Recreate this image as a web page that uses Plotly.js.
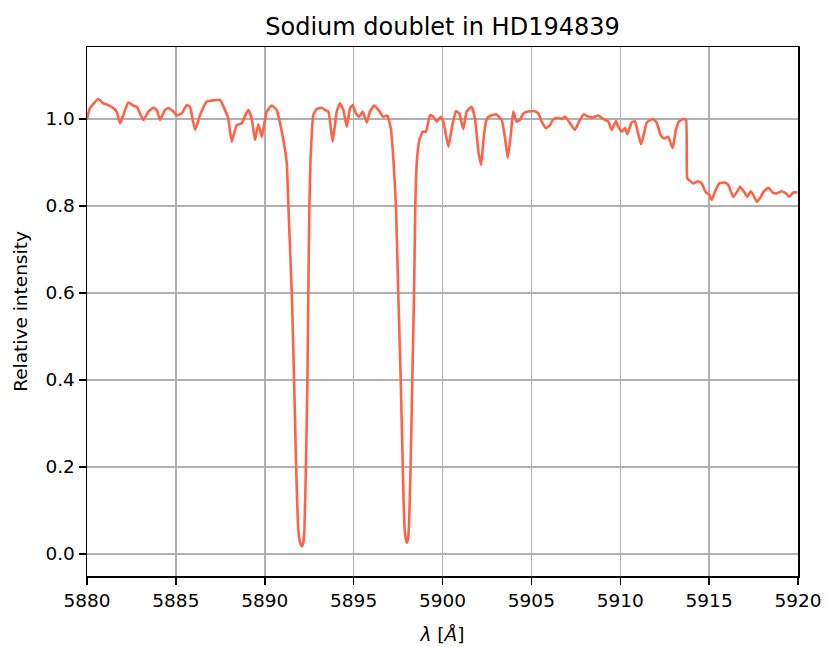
<!DOCTYPE html>
<html>
<head>
<meta charset="utf-8">
<script src="https://cdn.plot.ly/plotly-3.0.1.min.js"></script>
<style>html,body{margin:0;padding:0;background:#fff;}#plot{width:827px;height:647px;}</style>
</head>
<body>
<div id="plot"></div>
<script>
const wavelength = [
5880.00,5880.17,5880.64,5880.92,5881.20,5881.48,5881.67,5881.86,5882.04,5882.32,
5882.60,5882.80,5883.17,5883.45,5883.73,5883.92,5884.11,5884.39,5884.57,5884.86,
5885.05,5885.33,5885.61,5885.79,5886.08,5886.36,5886.73,5887.11,5887.48,5887.76,
5887.95,5888.14,5888.42,5888.70,5889.07,5889.27,5889.45,5889.64,5889.83,5890.11,
5890.39,5890.67,5890.86,5891.14,
5891.24,5891.33,5891.52,5891.65,5891.76,5891.89,5892.00,5892.08,5892.16,5892.23,
5892.32,5892.40,5892.45,5892.51,5892.58,5892.68,5892.73,5892.92,5893.20,5893.39,
5893.58,5893.82,5894.05,5894.23,5894.42,5894.61,5894.80,5894.95,5895.13,5895.32,
5895.51,5895.74,5895.92,5896.15,5896.39,5896.67,5896.89,5897.09,5897.23,5897.38,
5897.51,5897.65,5897.76,5897.85,5897.93,5897.99,5898.06,5898.12,5898.21,5898.30,
5898.40,5898.47,5898.55,5898.70,5898.89,5899.07,
5899.30,5899.49,5899.68,5899.90,5900.05,5900.33,5900.52,5900.76,5900.94,5901.17,
5901.36,5901.64,5901.83,5902.02,5902.17,5902.33,5902.49,5902.72,5903.01,5903.33,
5903.52,5903.67,5903.84,5903.98,5904.17,5904.36,5904.55,5904.83,5905.20,5905.39,
5905.58,5905.82,5906.05,5906.24,5906.52,5906.71,5906.90,5907.18,5907.45,5907.73,
5907.96,5908.20,5908.48,5908.77,5909.05,5909.33,5909.52,5909.76,5909.89,5910.08,
5910.27,5910.40,5910.64,5910.83,5910.98,5911.17,5911.34,5911.49,5911.83,5912.05,
5912.27,5912.46,5912.70,5912.95,5913.13,5913.32,5913.55,5913.70,5913.77,5913.92,
5914.11,5914.39,5914.58,5914.82,5915.01,5915.14,5915.33,5915.57,5915.89,5916.08,
5916.36,5916.59,5916.74,5916.96,5917.15,5917.34,5917.49,5917.68,5917.86,5918.09,
5918.33,5918.58,5918.80,5919.08,5919.32,5919.51,5919.73,5919.96
];
const intensity = [
1.000,1.025,1.046,1.036,1.032,1.025,1.017,0.990,1.009,1.038,
1.031,1.028,0.998,1.017,1.026,1.021,0.998,1.021,1.025,1.017,
1.008,1.013,1.032,1.028,0.975,1.009,1.040,1.043,1.044,1.021,
1.000,0.948,0.986,0.990,1.021,1.000,0.952,0.988,0.959,1.017,
1.031,1.021,0.990,0.930,
0.898,0.800,0.600,0.400,0.209,0.055,0.025,0.018,0.025,0.055,
0.209,0.400,0.600,0.800,0.913,0.990,1.009,1.023,1.026,1.021,
1.017,0.948,1.017,1.036,1.021,0.982,1.025,1.032,1.013,1.005,
1.017,0.992,1.017,1.031,1.021,1.005,1.008,0.979,0.913,0.800,
0.600,0.400,0.209,0.070,0.035,0.026,0.035,0.070,0.209,0.400,
0.600,0.800,0.898,0.952,0.971,0.971,
1.009,1.005,0.994,1.005,0.994,0.936,0.979,1.018,1.013,0.977,
1.017,1.028,1.000,0.925,0.894,0.963,1.000,1.008,1.011,0.998,
0.956,0.910,0.963,1.017,0.994,0.998,1.013,1.017,1.018,1.013,
0.994,0.979,0.986,1.000,1.003,1.000,1.005,0.990,0.975,0.998,
1.011,1.005,1.004,1.008,1.000,0.994,0.975,0.995,0.982,0.971,
0.979,0.965,0.992,0.995,0.971,0.942,0.967,0.992,1.000,0.992,
0.963,0.955,0.959,0.933,0.975,0.995,1.000,0.998,0.864,0.858,
0.852,0.857,0.852,0.831,0.826,0.814,0.833,0.852,0.854,0.848,
0.821,0.834,0.844,0.833,0.821,0.834,0.825,0.810,0.818,0.834,
0.842,0.831,0.829,0.834,0.829,0.821,0.831,0.831
];
const xTicks = [5880,5885,5890,5895,5900,5905,5910,5915,5920];
const yTicks = [0.0,0.2,0.4,0.6,0.8,1.0];

const font = {family: 'DejaVu Sans, sans-serif', size: 18.5, color: '#000'};
const trace = {
  x: wavelength, y: intensity, type: 'scatter', mode: 'lines',
  line: {color: 'tomato', width: 2.6, shape: 'spline', smoothing: 0.4},
  hoverinfo: 'skip'
};
const layout = {
  width: 827, height: 647,
  margin: {l: 87, r: 29, t: 47, b: 71},
  paper_bgcolor: '#fff', plot_bgcolor: '#fff',
  font: font,
  showlegend: false,
  title: {text: 'Sodium doublet in HD194839', font: {family: 'DejaVu Sans, sans-serif', size: 24, color: '#000'}, x: 0.5, xref: 'paper', xanchor: 'center', y: 1 - 27/647, yanchor: 'middle'},
  xaxis: {
    range: [5880, 5920], tickvals: xTicks, ticktext: xTicks.map(String),
    showgrid: true, gridcolor: '#b0b0b0', gridwidth: 1.5,
    showline: true, linecolor: '#000', linewidth: 1.5, mirror: true,
    ticks: 'outside', ticklen: 7, tickwidth: 1.5, tickcolor: '#000', zeroline: false,
    tickfont: font,
    title: {text: '<i>λ</i> [<i>Å</i>]', font: font, standoff: 18}
  },
  yaxis: {
    range: [-0.0506, 1.1655], tickvals: yTicks, ticktext: yTicks.map(v => v.toFixed(1)),
    showgrid: true, gridcolor: '#b0b0b0', gridwidth: 1.5,
    showline: true, linecolor: '#000', linewidth: 1.5, mirror: true,
    ticks: 'outside', ticklen: 7, tickwidth: 1.5, tickcolor: '#000', zeroline: false,
    tickfont: font,
    title: {text: 'Relative intensity', font: font, standoff: 13}
  }
};
Plotly.newPlot('plot', [trace], layout, {staticPlot: true, displayModeBar: false});
</script>
</body>
</html>
